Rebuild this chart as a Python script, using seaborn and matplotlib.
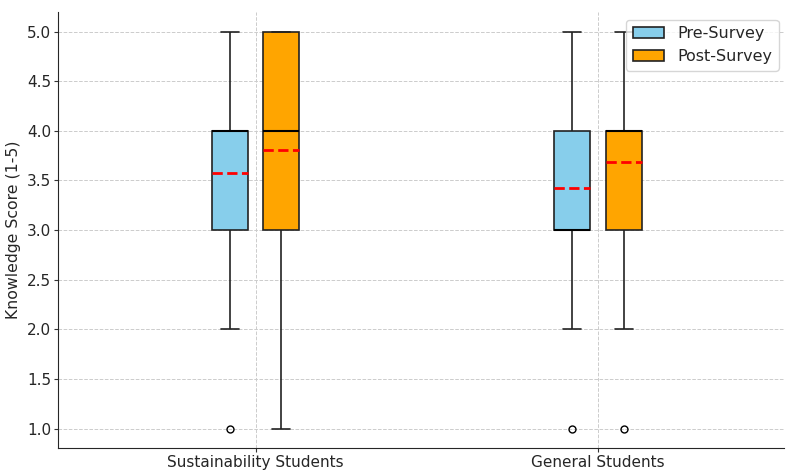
import numpy as np
import pandas as pd
import matplotlib
matplotlib.use("Agg")
import matplotlib.pyplot as plt
import seaborn as sns

groups = ["Sustainability Students", "General Students"]
surveys = ["Pre-Survey", "Post-Survey"]
score_levels = [1, 2, 3, 4, 5]

# how many students gave each score (1..5)
sust_pre_counts = [1, 2, 5, 10, 3]
sust_post_counts = [1, 1, 6, 6, 7]
gen_pre_counts = [1, 2, 8, 7, 3]
gen_post_counts = [1, 1, 5, 8, 4]

palette = {"Pre-Survey": "#87CEEB", "Post-Survey": "#FFA500"}


def expand(counts):
    return np.repeat(score_levels, counts)


rows = []
for group, survey, counts in [
    (groups[0], surveys[0], sust_pre_counts),
    (groups[0], surveys[1], sust_post_counts),
    (groups[1], surveys[0], gen_pre_counts),
    (groups[1], surveys[1], gen_post_counts),
]:
    for v in expand(counts):
        rows.append([group, survey, v])
df = pd.DataFrame(rows, columns=["Group", "Survey", "Score"])

sns.set_style("white")
fig, ax = plt.subplots(figsize=(7.86, 4.72), dpi=100)

sns.boxplot(data=df, x="Group", y="Score", hue="Survey", order=groups,
            hue_order=surveys, palette=palette, width=0.3, gap=0.3,
            linecolor="#222222", linewidth=1.2, saturation=1, ax=ax,
            showmeans=True, meanline=True,
            meanprops={"color": "red", "linestyle": "--", "linewidth": 2},
            medianprops={"color": "black", "linewidth": 1.5},
            flierprops={"marker": "o", "markerfacecolor": "none",
                        "markeredgecolor": "black", "markersize": 5})

ax.set_ylim(0.8, 5.2)
ax.set_xlim(-0.577, 1.545)
ticks = np.arange(1.0, 5.01, 0.5)
ax.set_yticks(ticks)
ax.set_yticklabels([f"{t:.1f}" for t in ticks], fontsize=11)
ax.tick_params(axis="x", labelsize=11)
ax.set_xlabel("")
ax.set_ylabel("Knowledge Score (1-5)", fontsize=11.3, labelpad=4)
ax.grid(True, linestyle="--", color="#cccccc", linewidth=0.7)
ax.set_axisbelow(True)
sns.despine(ax=ax)
ax.tick_params(axis="both", length=3, pad=2, color="#333333",
               bottom=True, left=True)

ax.legend(loc="upper right", fontsize=11.5, frameon=True, title=None,
          bbox_to_anchor=(1.003, 1.0))

fig.subplots_adjust(left=0.074, right=0.998, top=0.975, bottom=0.05)
fig.savefig("out.png", dpi=100)
plt.close()
